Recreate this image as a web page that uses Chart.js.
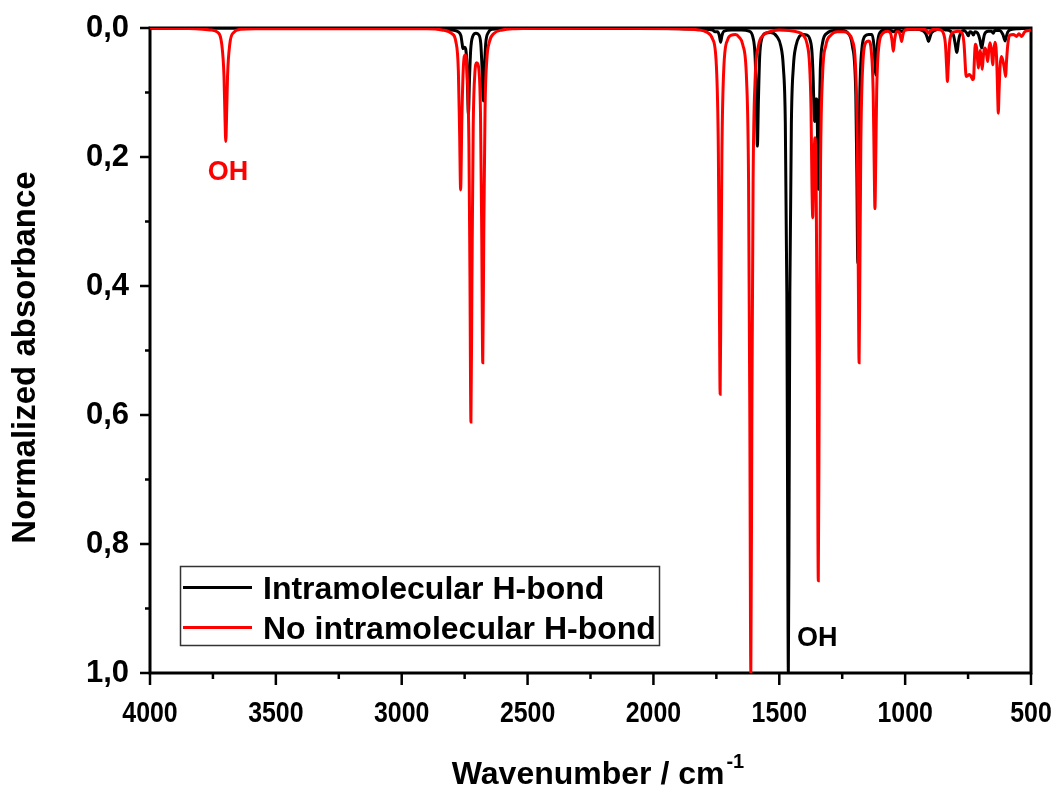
<!DOCTYPE html>
<html>
<head>
<meta charset="utf-8">
<script src="https://cdn.jsdelivr.net/npm/chart.js@4.4.1/dist/chart.umd.min.js"></script>
<style>
  html, body { margin: 0; padding: 0; background: #fff; }
</style>
</head>
<body>
<canvas id="irChart" width="1058" height="787"></canvas>
<script>
// wavenumber (cm-1), normalized absorbance
const blackSpectrum = [
  [4000,0],[2900,0],[2800,0.003],[2775,0.006],[2765,0.012],[2760,0.024],[2757,0.032],[2750,0.03],
  [2742,0.049],[2738,0.1],[2735,0.135],[2731,0.082],[2726,0.034],[2718,0.013],[2705,0.008],[2695,0.01],
  [2686,0.024],[2680,0.07],[2676,0.113],[2672,0.069],[2666,0.023],[2656,0.007],[2640,0.002],[2600,0.001],
  [2500,0],[1900,0.001],[1800,0.002],[1765,0.003],[1755,0.006],[1745,0.006],[1738,0.012],[1733,0.022],
  [1728,0.012],[1720,0.005],[1690,0.003],[1650,0.003],[1620,0.005],[1605,0.014],[1596,0.045],[1591,0.113],
  [1587,0.183],[1583,0.114],[1578,0.045],[1570,0.017],[1555,0.008],[1535,0.007],[1510,0.013],[1494,0.028],
  [1484,0.06],[1476,0.148],[1470,0.41],[1467,0.735],[1464,1.0],[1461,0.735],[1458,0.41],[1452,0.149],
  [1444,0.06],[1434,0.028],[1420,0.013],[1405,0.01],[1390,0.011],[1378,0.018],[1370,0.038],[1365,0.083],
  [1362,0.13],[1359,0.145],[1355,0.11],[1351,0.11],[1348,0.17],[1345,0.25],[1342,0.16],[1337,0.064],
  [1328,0.023],[1310,0.008],[1280,0.004],[1250,0.004],[1225,0.009],[1210,0.027],[1196,0.103],[1192,0.223],
  [1188,0.365],[1184,0.223],[1180,0.102],[1172,0.033],[1158,0.012],[1145,0.01],[1132,0.01],[1124,0.027],
  [1120,0.054],[1117,0.073],[1114,0.054],[1110,0.025],[1100,0.007],[1080,0.003],[1055,0.004],[1045,0.006],
  [1035,0.003],[1020,0.004],[1012,0.006],[1004,0.003],[960,0.002],[930,0.004],[918,0.009],[912,0.015],
  [907,0.021],[902,0.015],[896,0.008],[885,0.004],[860,0.002],[840,0.003],[820,0.005],[808,0.011],
  [801,0.025],[797,0.035],[795,0.038],[792,0.033],[788,0.02],[780,0.008],[765,0.004],[755,0.008],
  [749,0.012],[743,0.006],[735,0.007],[729,0.011],[723,0.006],[712,0.008],[703,0.018],[699,0.027],
  [696,0.031],[692,0.024],[685,0.01],[670,0.005],[657,0.005],[650,0.008],[644,0.004],[625,0.004],
  [612,0.01],[606,0.017],[603,0.02],[599,0.015],[592,0.006],[575,0.002],[550,0.001],[500,0]
];

const redSpectrum = [
  [4000,0],[3820,0.001],[3760,0.003],[3730,0.007],[3715,0.025],[3706,0.075],[3702,0.14],[3699,0.176],
  [3696,0.14],[3692,0.075],[3683,0.025],[3668,0.007],[3640,0.002],[3580,0.001],[2900,0.001],[2840,0.003],
  [2800,0.009],[2785,0.021],[2775,0.066],[2770,0.162],[2766,0.251],[2761,0.14],[2755,0.06],[2748,0.042],
  [2740,0.07],[2733,0.18],[2729,0.38],[2725,0.611],[2721,0.39],[2716,0.155],[2710,0.074],[2702,0.054],
  [2694,0.062],[2687,0.133],[2682,0.325],[2678,0.519],[2674,0.32],[2669,0.127],[2662,0.05],[2652,0.022],
  [2635,0.009],[2600,0.003],[2550,0.001],[2400,0],[1900,0.001],[1820,0.003],[1790,0.006],[1765,0.017],
  [1750,0.058],[1742,0.194],[1738,0.42],[1735,0.568],[1732,0.42],[1728,0.196],[1720,0.059],[1705,0.018],
  [1690,0.011],[1674,0.01],[1660,0.014],[1645,0.026],[1630,0.08],[1622,0.24],[1617,0.61],[1613,1.0],
  [1609,0.61],[1604,0.236],[1596,0.08],[1583,0.028],[1565,0.012],[1540,0.006],[1500,0.003],[1460,0.004],
  [1430,0.006],[1405,0.011],[1390,0.024],[1380,0.055],[1374,0.124],[1370,0.249],[1367,0.294],[1363,0.215],
  [1358,0.17],[1353,0.27],[1349,0.54],[1345,0.857],[1341,0.53],[1336,0.21],[1328,0.073],[1315,0.027],
  [1295,0.011],[1270,0.006],[1245,0.006],[1225,0.009],[1210,0.019],[1198,0.053],[1190,0.177],[1186,0.384],
  [1183,0.519],[1180,0.384],[1176,0.179],[1168,0.055],[1155,0.022],[1145,0.02],[1135,0.034],[1127,0.099],
  [1123,0.21],[1120,0.28],[1117,0.21],[1113,0.097],[1105,0.03],[1090,0.009],[1070,0.005],[1058,0.008],
  [1052,0.02],[1047,0.036],[1042,0.019],[1035,0.006],[1025,0.006],[1019,0.012],[1014,0.021],[1009,0.011],
  [1000,0.003],[980,0.002],[950,0.002],[925,0.002],[915,0.004],[907,0.008],[899,0.004],[880,0.002],
  [860,0.003],[848,0.008],[840,0.025],[835,0.062],[832,0.083],[829,0.062],[824,0.025],[816,0.009],
  [805,0.006],[790,0.005],[775,0.007],[766,0.025],[760,0.065],[758,0.075],[752,0.074],[745,0.072],
  [738,0.075],[731,0.08],[728,0.078],[725,0.05],[721,0.025],[716,0.031],[713,0.045],[709,0.062],
  [705,0.045],[702,0.035],[698,0.045],[694,0.064],[690,0.047],[686,0.033],[683,0.031],[679,0.035],
  [675,0.045],[672,0.052],[668,0.035],[663,0.023],[658,0.032],[655,0.045],[652,0.057],[648,0.035],
  [643,0.022],[639,0.03],[635,0.065],[632,0.11],[630,0.132],[627,0.1],[623,0.06],[618,0.044],
  [612,0.05],[606,0.062],[601,0.075],[597,0.05],[592,0.025],[584,0.011],[570,0.01],[557,0.013],
  [548,0.009],[537,0.013],[525,0.006],[510,0.004],[500,0.003]
];

const seriesNames = ["Intramolecular H-bond", "No intramolecular H-bond"];
const seriesColors = ["#000000", "#ff0000"];
const xRange = [500, 4000];
const yRange = [0, 1];
const xTickLabels = [4000, 3500, 3000, 2500, 2000, 1500, 1000, 500];

const FONT = "'Liberation Sans', Arial, sans-serif";

function toPoints(arr) {
  return arr.map(p => ({ x: p[0], y: p[1] }));
}

const framePlugin = {
  id: 'framePlugin',
  beforeDatasetsDraw(chart) {
    const { ctx, chartArea: a, scales: { x, y } } = chart;
    ctx.save();
    ctx.strokeStyle = '#000';
    ctx.lineWidth = 3;
    ctx.strokeRect(a.left, a.top, a.right - a.left, a.bottom - a.top);
    ctx.lineWidth = 2.5;
    ctx.beginPath();
    for (let v = xRange[0]; v <= xRange[1]; v += 250) {
      const px = x.getPixelForValue(v);
      const len = v % 500 === 0 ? 12 : 6;
      ctx.moveTo(px, a.bottom);
      ctx.lineTo(px, a.bottom + len);
    }
    for (let i = 0; i <= 10; i++) {
      const py = y.getPixelForValue(i / 10);
      const len = i % 2 === 0 ? 10 : 5;
      ctx.moveTo(a.left, py);
      ctx.lineTo(a.left - len, py);
    }
    ctx.stroke();

    // x tick labels, condensed like the original
    ctx.fillStyle = '#000';
    ctx.font = "bold 30px " + FONT;
    ctx.textAlign = 'center';
    ctx.textBaseline = 'alphabetic';
    xTickLabels.forEach(v => {
      const px = x.getPixelForValue(v);
      ctx.save();
      ctx.translate(px, 722);
      ctx.scale(0.83, 1);
      ctx.fillText(String(v), 0, 0);
      ctx.restore();
    });
    ctx.restore();
  },
  afterDraw(chart) {
    const { ctx, chartArea: a, scales: { x, y } } = chart;
    ctx.save();

    // y title
    ctx.fillStyle = '#000';
    ctx.font = "bold 33px " + FONT;
    ctx.textAlign = 'center';
    ctx.textBaseline = 'middle';
    ctx.translate(26, (a.top + a.bottom) / 2 + 7);
    ctx.rotate(-Math.PI / 2);
    ctx.fillText('Normalized absorbance', 0, 0);
    ctx.setTransform(1, 0, 0, 1, 0, 0);

    // x title with superscript
    ctx.textBaseline = 'alphabetic';
    ctx.textAlign = 'left';
    const main = 'Wavenumber / cm';
    ctx.font = "bold 32px " + FONT;
    const w1 = ctx.measureText(main).width;
    ctx.font = "bold 20px " + FONT;
    const w2 = ctx.measureText('-1').width;
    const x0 = 597 - (w1 + w2) / 2;
    ctx.font = "bold 32px " + FONT;
    ctx.fillText(main, x0, 784);
    ctx.font = "bold 20px " + FONT;
    ctx.fillText('-1', x0 + w1 + 2, 768);

    // peak labels
    ctx.font = "bold 27px " + FONT;
    ctx.fillStyle = '#ff0000';
    ctx.textAlign = 'center';
    ctx.fillText('OH', x.getPixelForValue(3690), y.getPixelForValue(0.236));
    ctx.fillStyle = '#000';
    ctx.textAlign = 'left';
    ctx.fillText('OH', x.getPixelForValue(1430), y.getPixelForValue(0.958));

    // legend box
    ctx.lineWidth = 1.5;
    ctx.strokeStyle = '#333';
    ctx.strokeRect(180.5, 566.5, 479, 79);
    const rows = [587.5, 627.5];
    ctx.font = "bold 32px " + FONT;
    ctx.textBaseline = 'alphabetic';
    ctx.textAlign = 'left';
    for (let i = 0; i < 2; i++) {
      ctx.strokeStyle = seriesColors[i];
      ctx.lineWidth = 3;
      ctx.beginPath();
      ctx.moveTo(183, rows[i]);
      ctx.lineTo(252, rows[i]);
      ctx.stroke();
      ctx.fillStyle = '#000';
      ctx.fillText(seriesNames[i], 263, rows[i] + 11);
    }
    ctx.restore();
  }
};

const ctx = document.getElementById('irChart');
const irChart = new Chart(ctx, {
  type: 'line',
  data: {
    datasets: [
      {
        label: seriesNames[1],
        data: toPoints(redSpectrum),
        borderColor: seriesColors[1],
        borderWidth: 3,
        pointRadius: 0,
        fill: false,
        cubicInterpolationMode: 'monotone'
      },
      {
        label: seriesNames[0],
        data: toPoints(blackSpectrum),
        borderColor: seriesColors[0],
        borderWidth: 3,
        pointRadius: 0,
        fill: false,
        cubicInterpolationMode: 'monotone'
      }
    ]
  },
  options: {
    responsive: false,
    animation: false,
    layout: { padding: { top: 28, right: 27, left: 0, bottom: 0 } },
    plugins: {
      legend: { display: false },
      tooltip: { enabled: false }
    },
    scales: {
      x: {
        type: 'linear',
        reverse: true,
        min: xRange[0],
        max: xRange[1],
        grid: { display: false },
        border: { display: false },
        ticks: { display: false, stepSize: 500 },
        afterFit: s => { s.height = 114; s.paddingLeft = 0; s.paddingRight = 0; }
      },
      y: {
        type: 'linear',
        reverse: true,
        min: yRange[0],
        max: yRange[1],
        grid: { display: false },
        border: { display: false },
        ticks: {
          stepSize: 0.2,
          padding: 13,
          color: '#000',
          font: { family: FONT, size: 31, weight: 'bold' },
          callback: v => v.toFixed(1).replace('.', ',')
        },
        afterFit: s => { s.width = 150; s.paddingTop = 0; s.paddingBottom = 0; }
      }
    }
  },
  plugins: [framePlugin]
});
</script>
</body>
</html>
